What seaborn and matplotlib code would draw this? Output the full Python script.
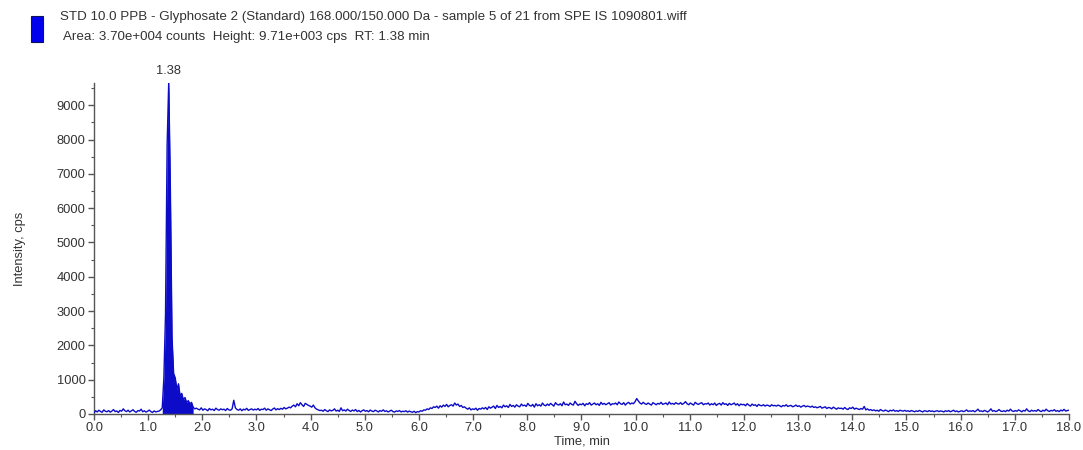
import numpy as np
import pandas as pd
import matplotlib
matplotlib.use("Agg")
import matplotlib.pyplot as plt
import seaborn as sns
from matplotlib.ticker import MultipleLocator, FormatStrFormatter
from matplotlib.patches import Rectangle

# XIC trace: 0.00 - 18.00 min, one point every 0.03 min (cps)
time_start = 0.0
time_step = 0.03
intensity = [
    40, 95, 60, 110, 75, 50, 120, 80, 65, 100, 55, 85, 130, 70, 90, 45, 105, 80, 150, 95,
    70, 110, 60, 90, 125, 75, 50, 100, 85, 140, 65, 95, 55, 80, 115, 70, 45, 90, 60, 75,
    85, 120, 180, 1050, 2900, 7850, 9710, 6550, 2250, 1180, 1050, 720, 880, 520, 600, 410, 480, 330, 390, 300,
    340, 200, 150, 170, 140, 120, 180, 110, 150, 130, 95, 160, 120, 140, 100, 170, 130, 110, 150, 125,
    140, 100, 160, 120, 110, 150, 400, 180, 130, 110, 150, 95, 140, 120, 165, 105, 130, 150, 115, 140,
    120, 160, 105, 140, 130, 170, 110, 150, 125, 100, 145, 175, 120, 155, 130, 165, 140, 190, 150, 170,
    200, 180, 230, 260, 210, 300, 240, 330, 270, 220, 310, 280, 250, 230, 200, 260, 180, 140, 120, 100,
    110, 80, 130, 95, 70, 120, 90, 105, 150, 85, 110, 75, 180, 95, 120, 85, 140, 100, 75, 115,
    90, 130, 70, 105, 60, 95, 120, 80, 100, 65, 115, 85, 70, 110, 90, 60, 100, 80, 120, 75,
    95, 60, 85, 110, 70, 55, 90, 75, 100, 60, 80, 70, 95, 55, 85, 65, 50, 80, 40, 70,
    60, 95, 80, 120, 110, 150, 130, 180, 160, 210, 190, 230, 170, 240, 200, 260, 220, 280, 210, 250,
    270, 230, 320, 260, 290, 220, 250, 190, 210, 170, 140, 180, 120, 150, 130, 170, 110, 160, 140, 180,
    150, 190, 130, 210, 170, 200, 230, 160, 250, 190, 220, 180, 260, 210, 240, 190, 280, 220, 250, 200,
    270, 230, 210, 290, 240, 260, 220, 310, 250, 230, 280, 200, 300, 240, 270, 230, 320, 260, 240, 290,
    250, 310, 270, 230, 330, 280, 260, 300, 240, 350, 270, 290, 250, 320, 280, 260, 370, 300, 250, 290,
    270, 310, 240, 300, 280, 330, 260, 290, 320, 270, 300, 250, 340, 280, 310, 270, 300, 330, 260, 300,
    290, 320, 270, 350, 300, 280, 330, 260, 310, 340, 290, 320, 300, 360, 450, 380, 320, 290, 340, 300,
    280, 320, 290, 260, 330, 300, 270, 310, 290, 340, 280, 300, 320, 270, 350, 290, 310, 280, 330, 300,
    290, 330, 280, 310, 360, 300, 270, 320, 290, 260, 340, 300, 280, 310, 330, 270, 300, 290, 320, 260,
    300, 270, 320, 250, 290, 310, 260, 330, 280, 300, 250, 310, 270, 290, 320, 260, 300, 240, 290, 270,
    280, 240, 300, 260, 230, 290, 250, 270, 220, 280, 250, 240, 270, 230, 260, 250, 220, 270, 240, 250,
    230, 260, 240, 210, 250, 230, 270, 220, 240, 250, 210, 230, 260, 220, 240, 200, 230, 250, 210, 230,
    220, 200, 230, 190, 210, 180, 200, 220, 170, 190, 210, 160, 190, 180, 150, 200, 170, 140, 180, 160,
    170, 140, 190, 150, 130, 180, 160, 200, 140, 170, 150, 130, 160, 140, 220, 120, 150, 110, 130, 100,
    120, 90, 110, 80, 130, 100, 85, 115, 95, 70, 110, 90, 120, 80, 100, 75, 110, 95, 85, 105,
    80, 95, 70, 100, 85, 65, 90, 75, 105, 80, 60, 95, 85, 70, 100, 75, 90, 65, 85, 95,
    70, 90, 80, 60, 95, 75, 100, 65, 85, 110, 70, 90, 60, 80, 95, 70, 85, 120, 75, 90,
    80, 100, 65, 95, 140, 80, 90, 70, 105, 85, 60, 95, 150, 80, 100, 70, 90, 130, 85, 75,
    95, 70, 110, 85, 140, 90, 75, 100, 80, 120, 95, 65, 105, 85, 150, 90, 70, 110, 85, 100,
    80, 130, 90, 70, 110, 85, 140, 95, 75, 105, 90, 125, 80, 100, 70, 115, 90, 135, 85, 100,
    110,
]

# integrated peak window and apex
peak_start = 1.26
peak_end = 1.83
peak_rt = 1.38

x_ticks = [0.0, 1.0, 2.0, 3.0, 4.0, 5.0, 6.0, 7.0, 8.0, 9.0, 10.0,
           11.0, 12.0, 13.0, 14.0, 15.0, 16.0, 17.0, 18.0]
y_ticks = [0, 1000, 2000, 3000, 4000, 5000, 6000, 7000, 8000, 9000]

title_line1 = ("STD 10.0 PPB - Glyphosate 2 (Standard) 168.000/150.000 Da - "
               "sample 5 of 21 from SPE IS 1090801.wiff")
title_line2 = "Area: 3.70e+004 counts  Height: 9.71e+003 cps  RT: 1.38 min"

times = np.round(time_start + time_step * np.arange(len(intensity)), 4)
df = pd.DataFrame({"time": times, "intensity": intensity})

sns.set_theme(style="white")
plt.rcParams["font.family"] = ["Liberation Sans", "DejaVu Sans"]

trace_color = "#0c0cc8"
text_color = "#333333"
label_size = 9.3

fig = plt.figure(figsize=(10.83, 4.5), dpi=100)
ax = fig.add_axes([0.0868, 0.08, 0.9002, 0.7356])

# shaded integrated peak
mask = (df["time"] >= peak_start) & (df["time"] <= peak_end)
ax.fill_between(df["time"][mask], 0, df["intensity"][mask],
                color=trace_color, lw=0, zorder=2)

sns.lineplot(data=df, x="time", y="intensity", ax=ax, color=trace_color,
             lw=1.0, zorder=3)

apex = df.loc[df["intensity"].idxmax()]
ax.text(peak_rt, apex["intensity"] + 110, f"{peak_rt:.2f}", ha="center",
        va="bottom", fontsize=label_size, color=text_color)

ax.set_xlim(0, 18.0)
ax.set_ylim(0, 9650)
ax.set_xticks(x_ticks)
ax.set_yticks(y_ticks)
ax.xaxis.set_major_formatter(FormatStrFormatter("%.1f"))
ax.xaxis.set_minor_locator(MultipleLocator(0.5))
ax.yaxis.set_minor_locator(MultipleLocator(500))

for side in ("top", "right"):
    ax.spines[side].set_visible(False)
for side in ("left", "bottom"):
    ax.spines[side].set_color("#555555")
    ax.spines[side].set_linewidth(1.0)

ax.tick_params(axis="both", which="major", direction="out", length=4,
               width=1, color="#555555", labelsize=label_size,
               labelcolor=text_color, bottom=True, left=True, pad=2)
ax.tick_params(axis="both", which="minor", direction="out", length=2.5,
               width=0.8, color="#555555", bottom=True, left=True)

ax.set_xlabel("Time, min", fontsize=label_size, color=text_color, labelpad=1)
ax.set_ylabel("Intensity, cps", fontsize=label_size, color=text_color,
              labelpad=22)

# legend swatch and header text
fig.patches.append(Rectangle((31 / 1083, 1 - 42 / 450), 12 / 1083, 26 / 450,
                             transform=fig.transFigure, facecolor="#0000ee",
                             edgecolor="#101060", lw=0.8))
fig.text(60 / 1083, 1 - 17 / 450, title_line1, ha="left", va="center",
         fontsize=9.6, color=text_color)
fig.text(63 / 1083, 1 - 37 / 450, title_line2, ha="left", va="center",
         fontsize=9.6, color=text_color)

fig.savefig("out.png", dpi=100)
